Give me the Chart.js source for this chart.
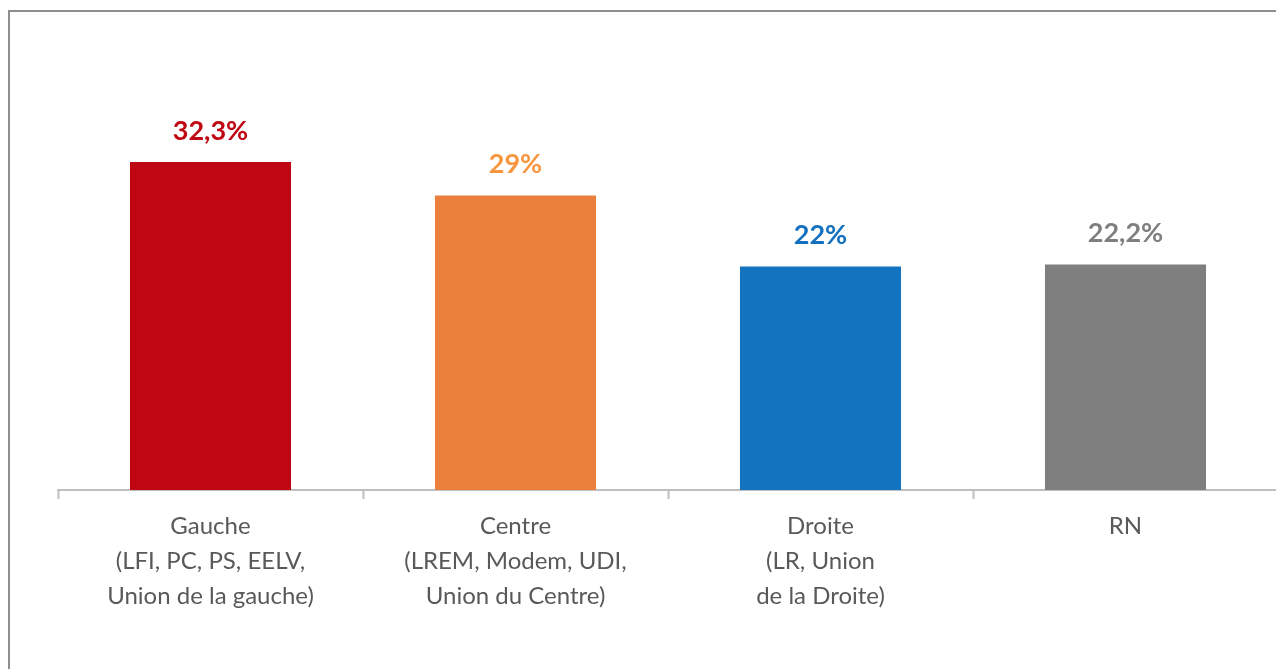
<!DOCTYPE html>
<html>
<head>
<meta charset="utf-8">
<script src="https://cdn.jsdelivr.net/npm/chart.js@4.4.0/dist/chart.umd.min.js"></script>
<style>
  html, body { margin: 0; padding: 0; background: #fff; overflow: hidden; width: 1276px; height: 669px; }
  #frame { position: absolute; left: 8px; top: 10px; width: 1300px; height: 700px;
           border-left: 2px solid #8e8e8e; border-top: 2px solid #8e8e8e; box-sizing: border-box; }
  #wrap { position: absolute; left: 0; top: 0; width: 1280px; height: 669px; }
</style>
</head>
<body>
<div id="frame"></div>
<div id="wrap"><canvas id="c" width="1280" height="669"></canvas></div>
<script>
const categories = [
  ["Gauche", "(LFI, PC, PS, EELV,", "Union de la gauche)"],
  ["Centre", "(LREM, Modem, UDI,", "Union du Centre)"],
  ["Droite", "(LR, Union", "de la Droite)"],
  ["RN"]
];
const values = [32.3, 29, 22, 22.2];
const valueLabels = ["32,3%", "29%", "22%", "22,2%"];
const barColors = ["#BF0613", "#EB803D", "#1373BE", "#7F7F7F"];
const labelColors = ["#C00613", "#F7963F", "#1270BE", "#7F7F7F"];

const valueLabelPlugin = {
  id: 'valueLabels',
  afterDatasetsDraw(chart) {
    const ctx = chart.ctx;
    const meta = chart.getDatasetMeta(0);
    ctx.save();
    ctx.font = 'bold 27px Lato, "Open Sans", sans-serif';
    ctx.textAlign = 'center';
    ctx.textBaseline = 'middle';
    meta.data.forEach((bar, i) => {
      ctx.fillStyle = labelColors[i];
      ctx.fillText(valueLabels[i], bar.x, bar.y - 31);
    });
    ctx.restore();
  }
};

new Chart(document.getElementById('c'), {
  type: 'bar',
  data: {
    labels: categories,
    datasets: [{
      data: values,
      backgroundColor: barColors,
      borderWidth: 0,
      categoryPercentage: 0.528,
      barPercentage: 1.0
    }]
  },
  options: {
    responsive: false,
    animation: false,
    events: [],
    layout: { padding: { left: 58, right: 2, top: 33, bottom: 0 } },
    plugins: { legend: { display: false }, tooltip: { enabled: false } },
    scales: {
      x: {
        offset: true,
        afterFit(scale) { scale.height = 179; },
        grid: {
          display: true,
          drawOnChartArea: false,
          drawTicks: true,
          tickLength: 9,
          tickWidth: 2,
          tickColor: '#BFBFBF',
          offset: true
        },
        border: { display: true, color: '#BFBFBF', width: 2 },
        ticks: {
          color: '#595959',
          font: { family: 'Lato, "Open Sans", sans-serif', size: 24, lineHeight: 35/24 },
          padding: 10,
          maxRotation: 0,
          autoSkip: false
        }
      },
      y: {
        display: false,
        min: 0,
        max: 45
      }
    }
  },
  plugins: [valueLabelPlugin]
});
</script>
</body>
</html>
